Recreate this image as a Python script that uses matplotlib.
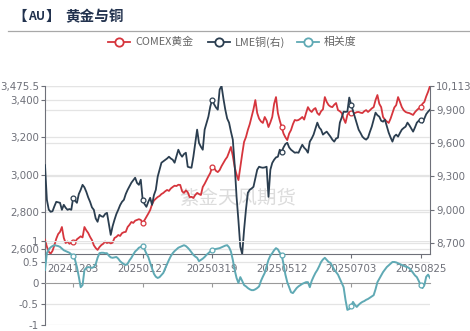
import numpy as np
import matplotlib
matplotlib.use("Agg")
import matplotlib.pyplot as plt

plt.rcParams['font.family'] = ['DejaVu Sans']

# ---------------- data ----------------
tick_idx = [15, 52, 89, 126, 163, 200]
tick_labels = ['20241203', '20250127', '20250319', '20250512', '20250703', '20250825']

gold = [
    2650, 2612, 2585, 2575, 2590, 2620, 2655, 2680, 2692, 2718,
    2660, 2632, 2640, 2628, 2634, 2640, 2638, 2652, 2660, 2668,
    2662, 2718, 2700, 2686, 2665, 2648, 2620, 2605, 2595, 2610,
    2621, 2628, 2640, 2632, 2636, 2630, 2634, 2659, 2665, 2675,
    2670, 2685, 2690, 2692, 2718, 2730, 2745, 2740, 2752, 2756,
    2760, 2756, 2740, 2755, 2772, 2790, 2809, 2840, 2860, 2870,
    2879, 2885, 2895, 2901, 2910, 2917, 2912, 2925, 2933, 2940,
    2938, 2945, 2944, 2910, 2901, 2915, 2905, 2879, 2880, 2874,
    2890, 2901, 2895, 2890, 2933, 2950, 2970, 2990, 3008, 3040,
    3035, 3020, 3013, 3024, 3045, 3062, 3080, 3094, 3120, 3148,
    3100, 3040, 3000, 2970, 3040, 3110, 3175, 3201, 3239, 3270,
    3309, 3350, 3400, 3330, 3300, 3285, 3277, 3309, 3290, 3255,
    3280, 3309, 3380, 3416, 3330, 3290, 3255, 3220, 3200, 3185,
    3220, 3239, 3270, 3293, 3290, 3293, 3300, 3309, 3295, 3330,
    3362, 3345, 3336, 3350, 3357, 3330, 3320, 3340, 3350, 3416,
    3390, 3373, 3365, 3362, 3375, 3384, 3346, 3340, 3330, 3300,
    3277, 3320, 3336, 3330, 3332, 3330, 3335, 3336, 3332, 3330,
    3340, 3346, 3336, 3345, 3355, 3362, 3400, 3427, 3380, 3362,
    3309, 3295, 3285, 3277, 3300, 3330, 3360, 3373, 3416, 3390,
    3362, 3345, 3336, 3332, 3330, 3325, 3320, 3335, 3346, 3355,
    3362, 3380, 3390, 3420, 3445, 3475.5,
]

copper = [
    9400, 9088, 9000, 8980, 8985, 9030, 9070, 9065, 9061, 8998,
    9043, 9016, 8998, 9005, 8998, 9106, 9080, 9061, 9140, 9178,
    9223, 9200, 9160, 9110, 9070, 9020, 8998, 8920, 8890, 8953,
    8940, 8935, 8960, 8971, 8870, 8772, 8850, 8908, 8960, 8998,
    9040, 9070, 9088, 9140, 9178, 9210, 9242, 9265, 9287, 9240,
    9223, 9269, 9088, 9050, 9025, 9070, 9106, 9043, 9130, 9178,
    9296, 9360, 9422, 9435, 9449, 9460, 9476, 9460, 9449, 9422,
    9480, 9539, 9500, 9476, 9500, 9512, 9386, 9380, 9377, 9476,
    9600, 9720, 9600, 9566, 9539, 9720, 9780, 9837, 9927, 9990,
    9950, 9920, 9900, 10081, 10113, 10000, 9900, 9820, 9783, 9702,
    9630, 9400, 9115, 8900, 8664, 8600, 8817, 9000, 9151, 9178,
    9190, 9205, 9280, 9359, 9386, 9380, 9377, 9380, 9386, 9115,
    9359, 9420, 9449, 9470, 9476, 9539, 9521, 9560, 9590, 9602,
    9560, 9539, 9525, 9512, 9515, 9512, 9550, 9584, 9557, 9540,
    9512, 9612, 9640, 9675, 9730, 9783, 9740, 9720, 9675, 9690,
    9702, 9680, 9657, 9630, 9612, 9640, 9648, 9783, 9830, 9882,
    9880, 9882, 10009, 9946, 9890, 9837, 9780, 9720, 9690, 9657,
    9640, 9630, 9648, 9700, 9747, 9810, 9873, 9850, 9837, 9800,
    9792, 9810, 9750, 9693, 9650, 9612, 9660, 9675, 9657, 9690,
    9720, 9735, 9747, 9783, 9760, 9730, 9702, 9740, 9783, 9800,
    9810, 9783, 9820, 9860, 9882, 9900,
]

corr = [
    0.31, 0.71, 0.80, 0.85, 0.88, 0.90, 0.89, 0.88, 0.86, 0.82,
    0.78, 0.76, 0.74, 0.72, 0.68, 0.64, 0.55, 0.38, 0.15, -0.10,
    -0.05, 0.31, 0.36, 0.38, 0.37, 0.36, 0.38, 0.45, 0.60, 0.71,
    0.72, 0.72, 0.71, 0.71, 0.65, 0.61, 0.60, 0.61, 0.62, 0.58,
    0.52, 0.48, 0.45, 0.43, 0.46, 0.54, 0.60, 0.68, 0.75, 0.79,
    0.84, 0.86, 0.88, 0.80, 0.70, 0.62, 0.48, 0.35, 0.22, 0.15,
    0.12, 0.14, 0.19, 0.24, 0.35, 0.45, 0.55, 0.64, 0.71, 0.76,
    0.80, 0.84, 0.86, 0.88, 0.90, 0.88, 0.84, 0.79, 0.73, 0.67,
    0.63, 0.60, 0.52, 0.55, 0.58, 0.62, 0.67, 0.71, 0.75, 0.79,
    0.80, 0.81, 0.82, 0.83, 0.85, 0.87, 0.89, 0.90, 0.85, 0.75,
    0.55, 0.31, 0.12, 0.00, 0.14, 0.05, -0.05, -0.08, -0.12, -0.15,
    -0.17, -0.17, -0.15, -0.12, -0.08, 0.05, 0.15, 0.24, 0.40, 0.55,
    0.65, 0.71, 0.78, 0.83, 0.80, 0.72, 0.67, 0.45, 0.20, 0.02,
    -0.10, -0.22, -0.24, -0.18, -0.12, -0.08, -0.05, -0.02, 0.00, 0.02,
    0.02, -0.10, 0.05, 0.15, 0.24, 0.31, 0.40, 0.50, 0.56, 0.60,
    0.55, 0.50, 0.48, 0.40, 0.32, 0.26, 0.20, 0.10, 0.00, -0.10,
    -0.40, -0.64, -0.62, -0.55, -0.45, -0.52, -0.57, -0.52, -0.48, -0.45,
    -0.43, -0.40, -0.38, -0.35, -0.32, -0.29, -0.15, 0.02, 0.10, 0.18,
    0.26, 0.32, 0.38, 0.42, 0.46, 0.50, 0.50, 0.49, 0.47, 0.45,
    0.43, 0.41, 0.39, 0.38, 0.35, 0.30, 0.24, 0.18, 0.14, 0.05,
    -0.05, -0.12, -0.05, 0.15, 0.20, 0.12,
]

gold_ticks = [2600, 2800, 3000, 3200, 3400, 3475.5]
copper_ticks = [8700, 9000, 9300, 9600, 9900, 10113]
corr_ticks = [-1, -0.5, 0, 0.5, 1]

title_parts = ['【', 'AU', '】', '黄金与铜']
series_names = ['COMEX黄金', 'LME铜(右)', '相关度']
watermark = '紫金天风期货'

# ---------------- style ----------------
C_GOLD = '#D6353D'
C_CU = '#2B3E50'
C_CORR = '#5FA9B4'
C_AX = '#6E7079'
C_GRID = '#E4E4E4'
C_TITLE = '#22324E'
CJK = ['Noto Sans CJK SC', 'DejaVu Sans']

W, H = 470, 331
fig = plt.figure(figsize=(W / 100, H / 100), dpi=100)
fig.patch.set_facecolor('white')

def fx(px):
    return px / W

def fy(py):
    return 1 - py / H

L, R = 45, 430
TOP1, BOT1 = 86, 254
TOP3, BOT3 = 241, 325

x = np.arange(len(gold))
n = len(gold)

# overlay for title / legend
ov = fig.add_axes([0, 0, 1, 1])
ov.set_xlim(0, W)
ov.set_ylim(H, 0)
ov.axis('off')
tkw = dict(family=CJK, fontsize=10.5, fontweight='bold', color=C_TITLE, va='center')
ov.text(19.5, 16, title_parts[0], ha='center', **tkw)
ov.text(28, 16, title_parts[1], ha='left', family=CJK, fontsize=8.8,
        fontweight='bold', color=C_TITLE, va='center')
ov.text(53, 16, title_parts[2], ha='center', **tkw)
ov.text(65, 16, title_parts[3], ha='left', **tkw)
ov.plot([8, W], [30.5, 30.5], color='#A8A8A8', lw=0.9)

leg_items = [(108, C_GOLD, series_names[0]), (208, C_CU, series_names[1]),
             (297, C_CORR, series_names[2])]
for x0, c, name in leg_items:
    ov.plot([x0, x0 + 22], [42, 42], color=c, lw=1.3)
    ov.plot([x0 + 11], [42], marker='o', ms=6, mfc='white', mec=c, mew=1.3)
    ov.text(x0 + 27, 42, name, family=CJK, fontsize=7.8, color='#666666',
            va='center', ha='left')

# top panel
ax1 = fig.add_axes([fx(L), fy(BOT1), fx(R - L), (BOT1 - TOP1) / H])
ax1.patch.set_alpha(0)
ax2 = ax1.twinx()
ax1.set_zorder(ax2.get_zorder() + 1)

ax1.set_xlim(0, n - 1)
ax1.set_ylim(2573, 3475.5)
ax2.set_ylim(8600, 10113)

for v in gold_ticks:
    ax1.axhline(v, color=C_GRID, lw=0.9, zorder=0.5)
for v in copper_ticks:
    ax1.plot([0, 1], [v, v], transform=ax2.get_yaxis_transform(),
             color=C_GRID, lw=0.9, zorder=0.5)

ax1.text(0.50, 0.33, watermark, transform=ax1.transAxes, family=CJK,
         fontsize=14, color='#DCDCDC', ha='center', va='center', zorder=0.6)

ax1.plot(x, gold, color=C_GOLD, lw=1.3, zorder=3, marker='o', ms=3.5,
         mfc='white', mec=C_GOLD, mew=0.9, markevery=tick_idx)
ax1.plot(x, copper, color=C_CU, lw=1.3, zorder=4, marker='o', ms=3.5,
         mfc='white', mec=C_CU, mew=0.9, markevery=tick_idx,
         transform=ax2.transData)

ax1.set_yticks(gold_ticks)
ax1.set_yticklabels([f'{v:,.1f}' if v % 1 else f'{int(v):,}' for v in gold_ticks])
ax2.set_yticks(copper_ticks)
ax2.set_yticklabels([f'{v:,}' for v in copper_ticks])
ax1.set_xticks(tick_idx)
ax1.set_xticklabels(tick_labels)

for a in (ax1, ax2):
    for s in a.spines.values():
        s.set_visible(False)
ax1.spines['left'].set_visible(True)
ax1.spines['left'].set_color(C_AX)
ax1.spines['bottom'].set_visible(True)
ax1.spines['bottom'].set_color(C_AX)
ax2.spines['right'].set_visible(True)
ax2.spines['right'].set_color(C_AX)

ax1.tick_params(axis='y', colors=C_AX, labelsize=7.4, length=3, pad=1.5,
                width=0.8, labelcolor=C_AX)
ax2.tick_params(axis='y', colors=C_AX, labelsize=7.4, length=3, pad=1.5,
                width=0.8, labelcolor=C_AX)
ax1.tick_params(axis='x', colors=C_AX, labelsize=7.4, length=3, pad=4,
                width=0.8, labelcolor=C_AX)

# bottom panel (correlation)
ax3 = fig.add_axes([fx(L), fy(BOT3), fx(R - L), (BOT3 - TOP3) / H])
ax3.patch.set_alpha(0)
ax3.set_zorder(ax1.get_zorder() + 1)
ax3.set_xlim(0, n - 1)
ax3.set_ylim(-1, 1)
for v in corr_ticks:
    if v != 0:
        ax3.axhline(v, color=C_GRID, lw=0.9, zorder=0.5)
ax3.plot(x, corr, color=C_CORR, lw=1.4, zorder=3, marker='o', ms=3.5,
         mfc='white', mec=C_CORR, mew=0.9, markevery=tick_idx)
for k in ('top', 'right'):
    ax3.spines[k].set_visible(False)
ax3.spines['left'].set_color(C_AX)
ax3.spines['bottom'].set_position(('data', 0))
ax3.spines['bottom'].set_color('#9A9A9A')
ax3.set_yticks(corr_ticks)
ax3.set_yticklabels(['-1', '-0.5', '0', '0.5', '1'])
ax3.set_xticks(tick_idx)
ax3.set_xticklabels([])
ax3.tick_params(axis='y', colors=C_AX, labelsize=7.4, length=3, pad=1.5,
                width=0.8, labelcolor=C_AX)
ax3.tick_params(axis='x', colors='#9A9A9A', length=3, width=0.8)

fig.savefig('out.png', dpi=100, facecolor='white')
